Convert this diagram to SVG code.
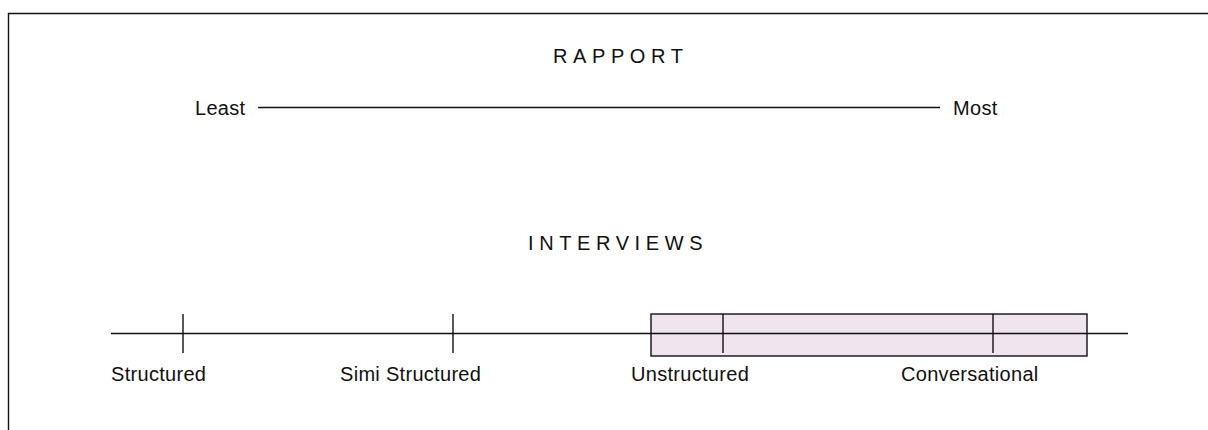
<svg xmlns="http://www.w3.org/2000/svg" width="1208" height="430" viewBox="0 0 1208 430">
<style>
text{font-family:"Liberation Sans",Arial,sans-serif;font-size:20px;fill:#111;letter-spacing:0.3px}
.sp{letter-spacing:5.6px}
.ln{stroke:#111;stroke-width:1.4;fill:none}
</style>
<rect x="0" y="0" width="1208" height="430" fill="#fff"/>
<path class="ln" d="M8.5,432 V13.5 H1210" stroke-width="1.6"/>
<g id="rapport-title"><text class="sp" x="553" y="63">RAPPORT</text></g>
<g id="least"><text x="195" y="115">Least</text></g>
<g id="most"><text x="953" y="115">Most</text></g>
<g id="interviews-title"><text class="sp" x="528" y="250">INTERVIEWS</text></g>
<g id="range-box"><rect x="651" y="314" width="436" height="42" fill="#EFE5EF" stroke="#111" stroke-width="1.4"/></g>
<g id="connectors">
<line class="ln" x1="258" y1="107.5" x2="940" y2="107.5"/>
<line class="ln" x1="111" y1="333.5" x2="1128" y2="333.5"/>
<line class="ln" x1="183" y1="314" x2="183" y2="353"/>
<line class="ln" x1="453" y1="314" x2="453" y2="353"/>
<line class="ln" x1="723" y1="314" x2="723" y2="353"/>
<line class="ln" x1="993" y1="314" x2="993" y2="353"/>
</g>
<g id="structured"><text x="111" y="381">Structured</text></g>
<g id="simi-structured"><text x="340" y="381">Simi Structured</text></g>
<g id="unstructured"><text x="631" y="381">Unstructured</text></g>
<g id="conversational"><text x="901" y="381">Conversational</text></g>
</svg>
